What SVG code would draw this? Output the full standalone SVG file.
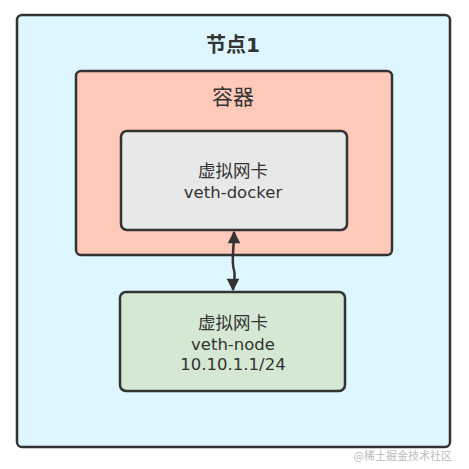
<svg xmlns="http://www.w3.org/2000/svg" width="469" height="469" viewBox="0 0 469 469">
<style>
.box{stroke:#333;stroke-width:2.5}
.t{font-family:"DejaVu Sans","Noto Sans CJK SC",sans-serif;fill:#333;text-anchor:middle}
</style>
<defs>
<marker id="ah" viewBox="0 0 10 10" refX="9" refY="5" markerWidth="6" markerHeight="5" orient="auto-start-reverse" markerUnits="strokeWidth">
<path d="M0,0 L10,5 L0,10 z" fill="#333"/>
</marker>
</defs>
<rect width="469" height="469" fill="#fff"/>
<g id="node1">
<rect class="box" x="17" y="15" width="433" height="432" rx="5" fill="#ddf6ff"/>
<text class="t" x="233" y="52" font-size="20" font-weight="bold">节点1</text>
</g>
<g id="container">
<rect class="box" x="76" y="71" width="316" height="184" rx="5" fill="#ffc9b9"/>
<text class="t" x="233" y="104" font-size="21">容器</text>
</g>
<g id="veth-docker">
<rect class="box" x="121" y="131" width="226" height="99" rx="6" fill="#e8e8e8"/>
<text class="t" x="233" y="177" font-size="17.5">虚拟网卡</text>
<text class="t" x="233" y="198" font-size="16.5">veth-docker</text>
</g>
<g id="veth-node">
<rect class="box" x="120" y="292" width="225" height="99" rx="6" fill="#d5e8d4"/>
<text class="t" x="233" y="329" font-size="17.5">虚拟网卡</text>
<text class="t" x="233" y="350" font-size="16.5">veth-node</text>
<text class="t" x="233" y="370" font-size="16.5">10.10.1.1/24</text>
</g>
<g id="connectors">
<path d="M234,232 C234,250 231,262 234,270 C236,278 233,284 233,290" fill="none" stroke="#333" stroke-width="2.5" marker-start="url(#ah)" marker-end="url(#ah)"/>
</g>
<text x="452" y="460" font-family="Noto Sans CJK SC,sans-serif" font-size="11" fill="#bbb" text-anchor="end">@稀土掘金技术社区</text>
</svg>
